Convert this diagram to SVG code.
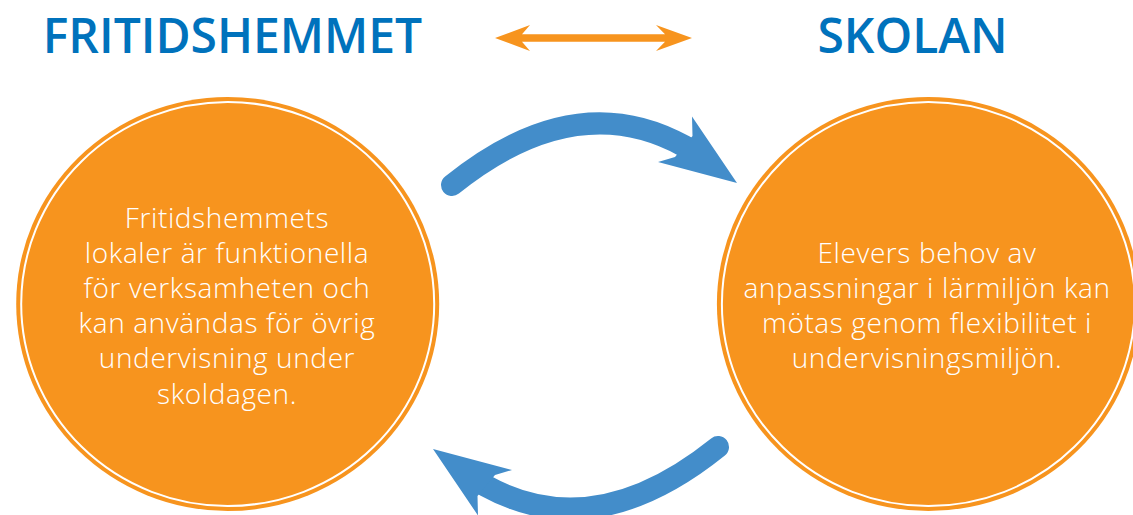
<svg xmlns="http://www.w3.org/2000/svg" width="1133" height="515" viewBox="0 0 1133 515">
<defs>
<style>
.title{font-family:"Open Sans","Liberation Sans",sans-serif;font-weight:600;font-size:48px;fill:#0072BC;text-anchor:middle}
.body{font-family:"Open Sans","Liberation Sans",sans-serif;font-weight:300;font-size:28px;letter-spacing:0.6px;fill:#FFFFFF;text-anchor:middle}
.disc{fill:#F7941E}
.ring{fill:none;stroke:#FFFFFF;stroke-width:2}
.shaft{fill:none;stroke:#438DCA;stroke-width:22;stroke-linecap:round}
.head{fill:#438DCA}
</style>
</defs>
<rect width="1133" height="515" fill="#FFFFFF"/>
<g id="title-fritidshemmet"><text class="title" x="232.5" y="53">FRITIDSHEMMET</text></g>
<g id="title-skolan"><text class="title" x="912.5" y="53">SKOLAN</text></g>
<g id="node-fritidshemmet">
<ellipse class="disc" cx="227.7" cy="304" rx="211.5" ry="207"/>
<ellipse class="ring" cx="227.7" cy="304" rx="206.5" ry="202"/>
<text class="body" x="227" y="228">Fritidshemmets</text>
<text class="body" x="227" y="263">lokaler är funktionella</text>
<text class="body" x="227" y="298">för verksamheten och</text>
<text class="body" x="227" y="333">kan användas för övrig</text>
<text class="body" x="227" y="368">undervisning under</text>
<text class="body" x="227" y="404">skoldagen.</text>
</g>
<g id="node-skolan">
<ellipse class="disc" cx="928.4" cy="304" rx="211.5" ry="207"/>
<ellipse class="ring" cx="928.4" cy="304" rx="206.5" ry="202"/>
<text class="body" x="927" y="263">Elevers behov av</text>
<text class="body" x="927" y="298">anpassningar i lärmiljön kan</text>
<text class="body" x="927" y="333">mötas genom flexibilitet i</text>
<text class="body" x="927" y="368">undervisningsmiljön.</text>
</g>
<g id="connectors">
<polygon id="double-arrow" fill="#F7941E" points="495,38 530,25 522,34.3 665,34.3 656,25 692,38 656,51 665,41.7 522,41.7 530,51"/>
<g id="arrow-top">
<path class="shaft" d="M452,185 Q575,86 684,146 L700,155"/>
<polygon class="head" points="737,183 692,116.5 692.5,136 675,157 658,162"/>
</g>
<g id="arrow-bottom" transform="rotate(180 585 316)">
<path class="shaft" d="M452,185 Q575,86 684,146 L700,155"/>
<polygon class="head" points="737,183 692,116.5 692.5,136 675,157 658,162"/>
</g>
</g>
</svg>
